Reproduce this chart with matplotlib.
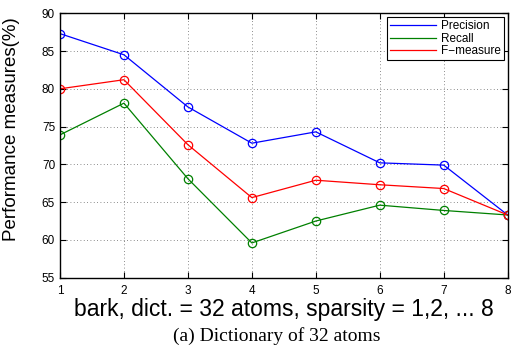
import matplotlib
matplotlib.use("Agg")
import matplotlib.pyplot as plt

# sparsity levels
sparsity = [1, 2, 3, 4, 5, 6, 7, 8]

# measures (%)
precision = [87.3, 84.5, 77.6, 72.8, 74.3, 70.2, 69.9, 63.3]
recall = [73.9, 78.1, 68.1, 59.6, 62.5, 64.6, 63.9, 63.3]
fmeasure = [80.0, 81.2, 72.6, 65.6, 67.9, 67.3, 66.8, 63.3]

yticks = [55, 60, 65, 70, 75, 80, 85, 90]

plt.rcParams['font.family'] = ['Liberation Sans', 'DejaVu Sans']

fig = plt.figure(figsize=(5.17, 3.48), dpi=100)
ax = fig.add_axes([0.116, 0.202, 0.866, 0.76])

ax.plot(sparsity, precision, color='blue', lw=0.9, marker='o', ms=6,
        mfc='none', mew=0.9, label='Precision')
ax.plot(sparsity, recall, color='green', lw=0.9, marker='o', ms=6,
        mfc='none', mew=0.9, label='Recall')
ax.plot(sparsity, fmeasure, color='red', lw=0.9, marker='o', ms=6,
        mfc='none', mew=0.9, label='F\u2212measure')

ax.set_xlim(1, 8)
ax.set_ylim(55, 90)
ax.set_xticks(sparsity)
ax.set_yticks(yticks)
ax.tick_params(direction='in', labelsize=8.5, top=True, right=True, length=4)
ax.tick_params(axis='x', pad=5)
ax.grid(True, color='black', linestyle=(0, (1, 3)), linewidth=0.6, alpha=0.6)
for s in ax.spines.values():
    s.set_linewidth(1.0)

ax.set_ylabel('Performance measures(%)', fontsize=13.5, labelpad=5)
ax.yaxis.set_label_coords(-0.09, 0.56)
ax.set_xlabel('bark, dict. = 32 atoms, sparsity = 1,2, ... 8', fontsize=16.5, labelpad=1)

leg = ax.legend(loc='upper right', fontsize=8.5, fancybox=False, edgecolor='black',
                framealpha=1, borderpad=0.25, labelspacing=0.05, handlelength=3.9,
                handletextpad=0.4, borderaxespad=0.35)
leg.get_frame().set_linewidth(0.8)
for h in leg.get_lines():
    h.set_marker('')

fig.text(0.535, 0.008, '(a) Dictionary of 32 atoms', ha='center', va='bottom',
         fontsize=14, family=['Liberation Serif', 'DejaVu Serif'])

fig.savefig('out.png', dpi=100)
